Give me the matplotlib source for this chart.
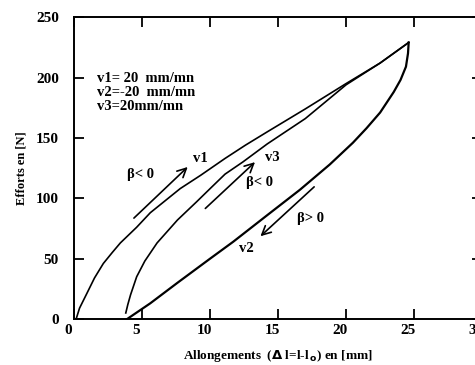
import numpy as np
import matplotlib
matplotlib.use("Agg")
import matplotlib.pyplot as plt
from matplotlib.transforms import ScaledTranslation

plt.rcParams['font.family'] = ['Liberation Serif', 'DejaVu Serif']
plt.rcParams['font.weight'] = 'bold'

# first loading (v1)
v1_x = [0.15, 0.4, 0.93, 1.5, 2.15, 2.8, 3.4, 4.6, 5.6, 6.7, 7.8, 9.3, 11.1, 12.6,
        14.2, 17.0, 20.0, 22.5, 24.6]
v1_y = [0, 9, 21, 34, 46, 55, 63, 76, 88, 98, 108, 119, 133, 144,
        155, 174, 195, 212, 229]

# unloading (v2)
v2_x = [24.6, 24.55, 24.4, 24.0, 23.5, 22.5, 21.5, 20.5, 18.8, 16.6, 14.2, 11.7,
        10.0, 7.6, 5.6, 3.9]
v2_y = [229, 220, 209, 198, 188, 171, 158, 146, 128, 107, 86, 64,
        50, 30, 13, 0]

# reloading (v3)
v3_x = [3.8, 3.95, 4.15, 4.6, 5.2, 6.1, 7.6, 9.0, 10.0, 11.1, 12.4, 14.2, 17.0,
        18.5, 20.0, 22.5, 24.6]
v3_y = [5, 12, 20, 35, 48, 63, 82, 97, 108, 120, 130, 145, 166,
        180, 194, 212, 229]

legend_lines = ["v1= 20  mm/mn", "v2=-20  mm/mn", "v3=20mm/mn"]

fig = plt.figure(figsize=(4.75, 3.65), dpi=100)
ax = fig.add_axes([0.156, 0.126, 0.859, 0.827])

ax.plot(v1_x, v1_y, color='black', lw=1.2)
ax.plot(v3_x, v3_y, color='black', lw=1.2)
ax.plot(v2_x, v2_y, color='black', lw=1.6)

ax.set_xlim(0, 30)
ax.set_ylim(0, 250)
ax.set_xticks(np.arange(0, 31, 5))
ax.set_yticks(np.arange(0, 251, 50))
ax.tick_params(direction='in', length=7, width=1.3, labelsize=11,
               top=True, right=True)
ax.tick_params(axis='y', pad=11)
for s in ax.spines.values():
    s.set_linewidth(1.4)

# the scanned figure has its x labels sitting a bit left of the ticks
shift = ScaledTranslation(-6 / 100, 0, fig.dpi_scale_trans)
for lab in ax.get_xticklabels():
    lab.set_transform(lab.get_transform() + shift)

ax.set_xlabel(r"Allongements  ($\Delta$ l=l-l$_{\,\rm o}$) en [mm]", fontsize=9.5,
              fontweight='bold', labelpad=8)
ax.set_ylabel("Efforts en [N]", fontsize=9, fontweight='bold', labelpad=6)

for i, t in enumerate(legend_lines):
    ax.text(1.7, 199 - i * 11.5, t, fontsize=10.5, va='center', ha='left')

arr = dict(arrowstyle='->', lw=1.2, color='black', mutation_scale=16)
ax.annotate('', xy=(8.5, 127.5), xytext=(4.25, 82), arrowprops=arr)
ax.annotate('', xy=(13.45, 131.5), xytext=(9.5, 90), arrowprops=arr)
ax.annotate('', xy=(13.55, 67), xytext=(17.8, 111), arrowprops=arr)

ax.text(4.85, 120, "β< 0", fontsize=10.5, ha='center', va='center')
ax.text(9.3, 133, "v1", fontsize=10.5, ha='center', va='center')
ax.text(14.6, 134, "v3", fontsize=10.5, ha='center', va='center')
ax.text(13.6, 113, "β< 0", fontsize=10.5, ha='center', va='center')
ax.text(17.4, 83, "β> 0", fontsize=10.5, ha='center', va='center')
ax.text(12.7, 58, "v2", fontsize=10.5, ha='center', va='center')

fig.savefig("out.png", dpi=100)
